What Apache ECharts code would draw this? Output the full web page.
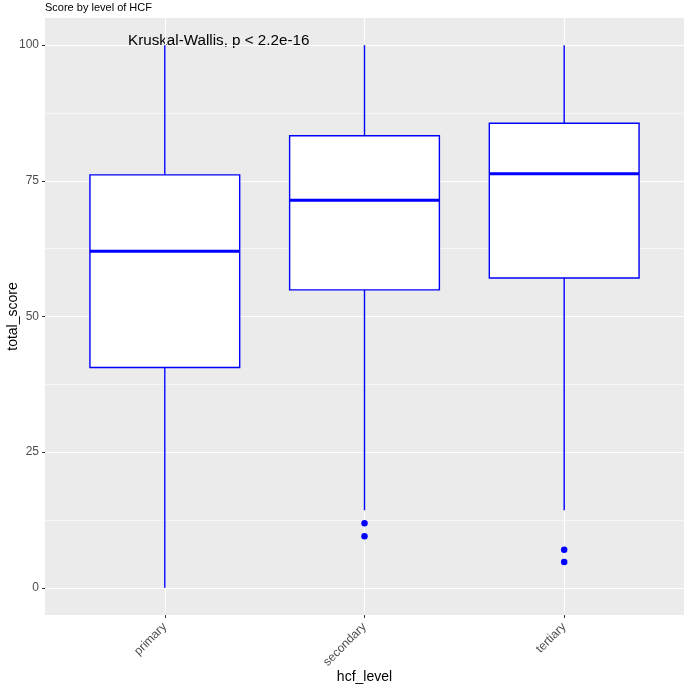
<!DOCTYPE html>
<html>
<head>
<meta charset="utf-8">
<script src="https://cdn.jsdelivr.net/npm/echarts@6/dist/echarts.min.js"></script>
<style>
  html, body { margin: 0; padding: 0; background: #fff; }
  #chart { width: 685px; height: 685px; }
</style>
</head>
<body>
<div id="chart"></div>
<script>
// box statistics
var categories = ['primary', 'secondary', 'tertiary'];
var whiskerLow = [0, 14.3, 14.3];
var q1 = [40.6, 54.9, 57.1];
var median = [62.0, 71.4, 76.3];
var q3 = [76.1, 83.3, 85.6];
var whiskerHigh = [100, 100, 100];
// outliers: [category index (1-based), value]
var outliers = [[2, 11.9], [2, 9.5], [3, 7.0], [3, 4.75]];
var yTicks = [0, 25, 50, 75, 100];
var yMinor = [12.5, 37.5, 62.5, 87.5];

var font = '"Liberation Sans", Arial, sans-serif';
var boxColor = '#0000FF';
var halfWidth = 0.375;

var boxData = categories.map(function (c, i) {
  return [i + 1, whiskerLow[i], q1[i], median[i], q3[i], whiskerHigh[i]];
});

function renderBox (params, api) {
  var x = api.value(0);
  var lo = api.coord([x, api.value(1)]);
  var b1 = api.coord([x, api.value(2)]);
  var md = api.coord([x, api.value(3)]);
  var b3 = api.coord([x, api.value(4)]);
  var hi = api.coord([x, api.value(5)]);
  var left = api.coord([x - halfWidth, api.value(3)])[0];
  var right = api.coord([x + halfWidth, api.value(3)])[0];
  var lineStyle = { stroke: boxColor, lineWidth: 1.4, fill: null };
  return {
    type: 'group',
    children: [
      { type: 'line', shape: { x1: hi[0], y1: hi[1], x2: b3[0], y2: b3[1] }, style: lineStyle },
      { type: 'line', shape: { x1: b1[0], y1: b1[1], x2: lo[0], y2: lo[1] }, style: lineStyle },
      { type: 'rect', shape: { x: left, y: b3[1], width: right - left, height: b1[1] - b3[1] },
        style: { fill: '#FFFFFF', stroke: boxColor, lineWidth: 1.4 } },
      { type: 'line', shape: { x1: left, y1: md[1], x2: right, y2: md[1] },
        style: { stroke: boxColor, lineWidth: 3 } }
    ]
  };
}

var chart = echarts.init(document.getElementById('chart'));
chart.setOption({
  animation: false,
  backgroundColor: '#FFFFFF',
  textStyle: { fontFamily: font },
  title: {
    text: 'Score by level of HCF',
    left: 45, top: 2, padding: 0,
    textStyle: { fontSize: 11, fontWeight: 'normal', color: '#000', fontFamily: font }
  },
  graphic: [{
    type: 'text', left: 128, top: 33,
    style: { text: 'Kruskal-Wallis, p < 2.2e-16', fontSize: 15.2, fill: '#000', font: '15.2px ' + font }
  }],
  grid: {
    left: 45, right: 1, top: 18, bottom: 70,
    outerBoundsMode: 'none', containLabel: false,
    show: true, backgroundColor: '#EBEBEB', borderWidth: 0
  },
  xAxis: {
    type: 'value', min: 0.4, max: 3.6,
    name: 'hcf_level', nameLocation: 'middle', nameGap: 55, nameMoveOverlap: false,
    nameTextStyle: { fontSize: 14, color: '#000', fontFamily: font },
    axisLine: { show: false, onZero: false },
    axisTick: { show: true, length: 3, lineStyle: { color: '#333', width: 1 }, customValues: [1, 2, 3] },
    axisLabel: {
      customValues: [1, 2, 3], rotate: 45, margin: 10,
      fontSize: 12, color: '#4D4D4D', fontFamily: font,
      formatter: function (v) { return categories[Math.round(v) - 1] || ''; }
    },
    splitLine: { show: true, lineStyle: { color: '#FFFFFF', width: 1.1 } }
  },
  yAxis: {
    type: 'value', min: -5, max: 105,
    name: 'total_score', nameLocation: 'middle', nameGap: 25, nameMoveOverlap: false,
    nameTextStyle: { fontSize: 14, color: '#000', fontFamily: font },
    axisLine: { show: false, onZero: false },
    axisTick: { show: true, length: 3, lineStyle: { color: '#333', width: 1 }, customValues: yTicks },
    axisLabel: { customValues: yTicks, margin: 6, fontSize: 12, color: '#4D4D4D', fontFamily: font },
    splitLine: { show: true, lineStyle: { color: '#FFFFFF', width: 1.1 } }
  },
  series: [
    {
      type: 'scatter', data: [], z: 1, silent: true,
      markLine: {
        silent: true, symbol: 'none', label: { show: false },
        lineStyle: { color: '#FFFFFF', width: 0.55, type: 'solid' },
        data: yMinor.map(function (v) { return { yAxis: v }; })
      }
    },
    {
      type: 'custom', z: 5, renderItem: renderBox,
      encode: { x: 0, y: [1, 2, 3, 4, 5] },
      data: boxData
    },
    {
      type: 'scatter', z: 6, symbolSize: 6.5,
      itemStyle: { color: boxColor, opacity: 1 },
      data: outliers
    }
  ]
});
</script>
</body>
</html>
